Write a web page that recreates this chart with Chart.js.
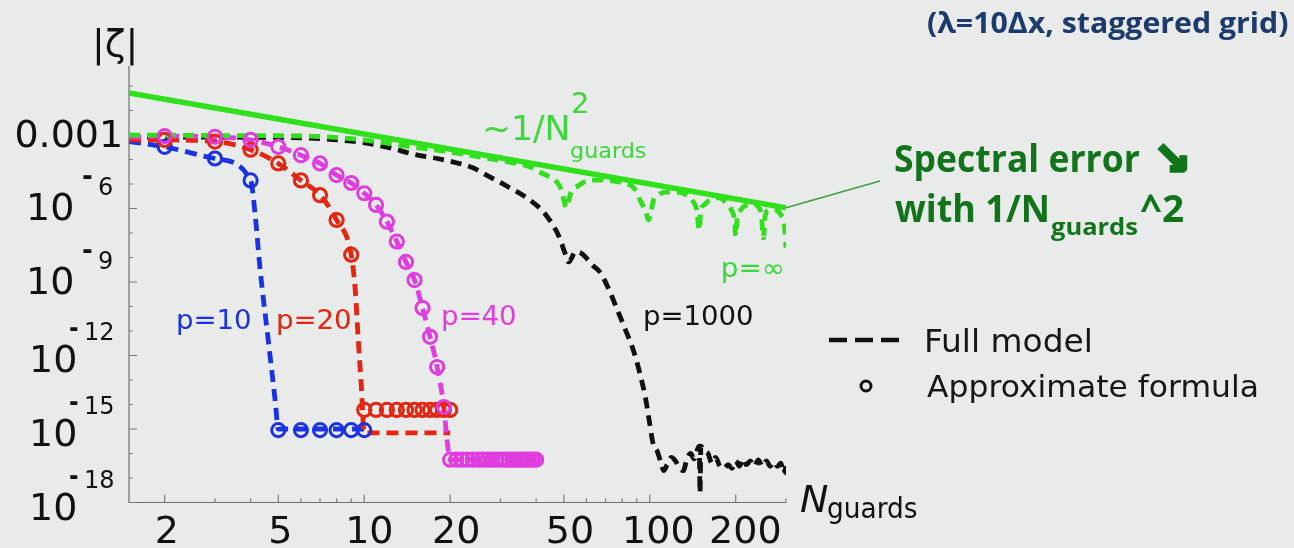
<!DOCTYPE html>
<html>
<head>
<meta charset="utf-8">
<script src="https://cdn.jsdelivr.net/npm/chart.js@4.4.1/dist/chart.umd.min.js"></script>
<style>
  html, body { margin: 0; padding: 0; background: #e9ebea; }
  canvas { display: block; }
</style>
</head>
<body>
<canvas id="chart" width="1294" height="548"></canvas>
<script>
// ---------- axis ticks ----------
const xTicks = [2, 5, 10, 20, 50, 100, 200];
const xMinorTicks = [3, 4, 6, 7, 8, 9, 30, 40, 60, 70, 80, 90, 300];
const yTickExponents = [-3, -6, -9, -12, -15, -18];
const yMinorExponents = [-1, -2, -4, -5, -7, -8, -10, -11, -13, -14, -16, -17];

// ---------- approximate formula (circles), integer N ----------
const approxN_p10 = [2, 3, 4, 5, 6, 7, 8, 9, 10];
const approx_p10 = [3.3e-4, 1.1e-4, 1.4e-5, 9e-16, 9e-16, 9e-16, 9e-16, 9e-16, 9e-16];

const approxN_p20 = [2, 3, 4, 5, 6, 7, 8, 9, 10, 11, 12, 13, 14, 15, 16, 17, 18, 19, 20];
const approx_p20 = [6.3e-4, 5.4e-4, 2.5e-4, 6.9e-5, 1.4e-5, 3.5e-6, 3.4e-7, 1.3e-8,
  6e-15, 6e-15, 6e-15, 6e-15, 6e-15, 6e-15, 6e-15, 6e-15, 6e-15, 6e-15, 6e-15];

const approxN_p40 = [2, 3, 4, 5, 6, 7, 8, 9, 10, 11, 12, 13, 14, 15, 16, 17, 18, 19, 20,
  21, 22, 23, 24, 25, 26, 27, 28, 29, 30, 31, 32, 33, 34, 35, 36, 37, 38, 39, 40];
const approx_p40 = [9.0e-4, 8.5e-4, 6.3e-4, 3.3e-4, 1.5e-4, 6.9e-5, 2.3e-5, 1.1e-5, 4.2e-6,
  1.4e-6, 2.9e-7, 4.5e-8, 6.6e-9, 1.2e-9, 8.7e-11, 5.8e-12, 3.4e-13, 7.9e-15,
  5.6e-17, 5.6e-17, 5.6e-17, 5.6e-17, 5.6e-17, 5.6e-17, 5.6e-17, 5.6e-17, 5.6e-17,
  5.6e-17, 5.6e-17, 5.6e-17, 5.6e-17, 5.6e-17, 5.6e-17, 5.6e-17, 5.6e-17, 5.6e-17,
  5.6e-17, 5.6e-17, 5.6e-17];

// ---------- full model (dashed curves) ----------
const fullN_p10 = [1.5, 2, 3, 4, 4.15, 4.32, 4.61, 4.88, 5, 10];
const full_p10 = [5.4e-4, 3.3e-4, 1.1e-4, 1.4e-5, 5.4e-7, 3.1e-9, 4.3e-12, 1.3e-14, 1.0e-15, 1.0e-15];

const fullN_p20 = [1.5, 2, 3, 4, 5, 6, 7, 8, 9, 9.3, 9.53, 9.76, 10, 20];
const full_p20 = [6.4e-4, 6.3e-4, 5.4e-4, 2.5e-4, 6.9e-5, 1.4e-5, 3.5e-6, 3.4e-7, 1.3e-8,
  4.7e-10, 4.3e-12, 6.3e-14, 7.0e-16, 7.0e-16];

const fullN_p40 = [1.5, 2, 3, 4, 5, 6, 7, 8, 9, 10, 11, 12, 13, 14, 15, 16, 17, 18, 19, 19.5, 20, 40];
const full_p40 = [8.3e-4, 9.0e-4, 8.5e-4, 6.3e-4, 3.3e-4, 1.5e-4, 6.9e-5, 2.3e-5, 1.1e-5, 4.2e-6,
  1.4e-6, 2.9e-7, 4.5e-8, 6.6e-9, 1.2e-9, 8.7e-11, 5.8e-12, 3.4e-13, 7.9e-15, 3.5e-16,
  5.6e-17, 5.6e-17];

const fullN_p1000 = [1.5, 5, 9, 12, 15, 18, 21, 24, 27, 31.5, 37.5, 43, 48, 50.5, 52, 55, 58,
  63, 67, 71.5, 76, 82, 88, 92.5, 96.5, 99.5, 103, 106, 109, 112, 115, 119, 123, 127, 131,
  135, 139, 143, 147, 149, 150, 151, 155, 160, 165, 170, 176, 182, 188, 194, 200, 206, 212,
  218, 225, 232, 240, 248, 256, 264, 272, 280, 288, 294, 300];
const full_p1000 = [8.3e-4, 7.9e-4, 5.6e-4, 3.2e-4, 1.6e-4, 1.1e-4, 7.4e-5, 4.6e-5, 2.2e-5,
  8.3e-6, 2.5e-6, 6.0e-7, 7.6e-8, 1.5e-8, 6.6e-9, 1.7e-8, 1.4e-8, 4.9e-9, 2.5e-9, 5.8e-10,
  1.05e-10, 1.2e-11, 1.4e-12, 1.7e-13, 2.0e-14, 2.3e-15, 2.2e-16, 1.3e-16, 5.0e-17, 2.0e-17,
  3.5e-17, 7.0e-17, 5.0e-17, 2.5e-17, 2.0e-17, 6.0e-17, 1.0e-16, 6.0e-17, 1.5e-16, 2.0e-16,
  2.5e-18, 2.0e-16, 1.3e-16, 1.0e-16, 4.0e-17, 7.0e-17, 3.0e-17, 2.5e-17, 3.5e-17, 2.5e-17,
  5.0e-17, 3.0e-17, 6.0e-17, 3.5e-17, 5.0e-17, 3.0e-17, 5.5e-17, 3.0e-17, 5.0e-17, 3.0e-17,
  4.5e-17, 3.0e-17, 4.0e-17, 1.5e-17, 3.0e-17];

const fullN_pInf = [1.5, 3, 5, 7, 9, 11, 14, 19, 25, 32, 38, 41, 44, 47, 49, 50, 51, 52, 53, 56,
  60, 66, 75, 82, 88, 93, 97, 99, 101, 103, 107, 113, 125, 135, 142, 146, 149, 151, 155, 162,
  175, 185, 193, 198, 200, 202, 208, 220, 230, 240, 246, 250, 254, 262, 275, 288, 296, 300];
const full_pInf = [1.0e-3, 9.5e-4, 9.3e-4, 8.7e-4, 7.1e-4, 5.4e-4, 3.5e-4, 2.2e-4, 1.3e-4,
  7.9e-5, 5.0e-5, 3.1e-5, 2.1e-5, 1.3e-5, 5.8e-6, 2.2e-6, 1.05e-6, 2.2e-6, 4.7e-6, 8.3e-6,
  1.3e-5, 1.45e-5, 1.3e-5, 1.05e-5, 6.9e-6, 1.9e-6, 7.2e-7, 3.4e-7, 7.2e-7, 2.2e-6, 3.5e-6,
  4.7e-6, 4.7e-6, 3.5e-6, 1.9e-6, 8.7e-7, 1.3e-7, 8.7e-7, 1.4e-6, 2.2e-6, 2.7e-6, 1.7e-6,
  8.7e-7, 3.4e-7, 7.6e-8, 3.4e-7, 8.7e-7, 1.4e-6, 1.5e-6, 1.15e-6, 5.4e-7, 6.3e-8, 5.4e-7,
  8.7e-7, 8.7e-7, 5.4e-7, 2.1e-7, 2.5e-8];

// ~1/N^2 guide line end points
const guideN = [1.5, 300];
const guideVal = [5.2e-2, 1.07e-6];

// ---------- colours ----------
const BLUE = '#1a32e4', RED = '#e6240f', MAGENTA = '#e03ce0', BLACK = '#111111';
const GREEN = '#30e01c', GREEN_TEXT = '#3ad83a', DARK_GREEN = '#11741a', NAVY = '#1d3a6c';

const pts = (xs, ys) => xs.map((v, i) => ({ x: v, y: ys[i] }));

function circles(xs, ys, color) {
  return {
    data: pts(xs, ys), showLine: false, pointStyle: 'circle', pointRadius: 6.6,
    pointBorderWidth: 3, pointBorderColor: color, pointBackgroundColor: 'rgba(0,0,0,0)',
    borderColor: color, backgroundColor: 'rgba(0,0,0,0)'
  };
}
function dashed(xs, ys, color, dash) {
  return {
    data: pts(xs, ys), showLine: true, pointRadius: 0, borderColor: color, borderWidth: 4.8,
    borderDash: dash || [12, 7], borderCapStyle: 'butt', cubicInterpolationMode: 'monotone',
    fill: false
  };
}

// first dataset is painted on top
const datasets = [
  circles(approxN_p40, approx_p40, MAGENTA),
  circles(approxN_p20, approx_p20, RED),
  circles(approxN_p10, approx_p10, BLUE),
  { data: pts(guideN, guideVal), showLine: true, pointRadius: 0, borderColor: GREEN,
    borderWidth: 5.5, fill: false },
  dashed(fullN_pInf, full_pInf, GREEN, [11, 7]),
  dashed(fullN_p40, full_p40, MAGENTA),
  dashed(fullN_p20, full_p20, RED),
  dashed(fullN_p10, full_p10, BLUE),
  dashed(fullN_p1000, full_p1000, BLACK, [11, 7])
];

// ---------- text helper: ink-left placement with optional width fit ----------
function put(ctx, s, x, base, font, color, opt = {}) {
  ctx.save();
  ctx.font = font;
  ctx.fillStyle = color;
  ctx.textAlign = 'left';
  ctx.textBaseline = 'alphabetic';
  const m = ctx.measureText(s);
  const ink = m.actualBoundingBoxLeft + m.actualBoundingBoxRight;
  let sx = 1;
  if (opt.to) sx = (opt.to - x) / ink;
  let left = x;
  if (opt.align === 'right') left = x - ink * sx;
  if (opt.align === 'center') left = x - ink * sx / 2;
  ctx.translate(left + m.actualBoundingBoxLeft * sx, base);
  ctx.scale(sx, 1);
  ctx.fillText(s, 0, 0);
  if (opt.stroke) {
    ctx.strokeStyle = color;
    ctx.lineWidth = opt.stroke;
    ctx.lineJoin = 'miter';
    ctx.strokeText(s, 0, 0);
  }
  ctx.restore();
}

const DJ = '"DejaVu Sans"';
const OS = '"Open Sans"';

const frame = {
  id: 'frame',
  beforeDatasetsDraw(chart) {
    const { ctx, chartArea: a, scales: { x, y } } = chart;
    ctx.save();
    ctx.strokeStyle = '#6e6e6e';
    ctx.lineWidth = 1.2;
    ctx.beginPath();
    ctx.moveTo(a.left, a.top);
    ctx.lineTo(a.left, a.bottom);
    ctx.lineTo(a.right, a.bottom);
    ctx.stroke();
    ctx.strokeStyle = '#7a7a7a';
    ctx.beginPath();
    xTicks.forEach(v => { const p = x.getPixelForValue(v); ctx.moveTo(p, a.bottom); ctx.lineTo(p, a.bottom - 8); });
    xMinorTicks.forEach(v => { const p = x.getPixelForValue(v); ctx.moveTo(p, a.bottom); ctx.lineTo(p, a.bottom - 4); });
    yTickExponents.forEach(e => { const p = y.getPixelForValue(Math.pow(10, e)); ctx.moveTo(a.left, p); ctx.lineTo(a.left + 8, p); });
    yMinorExponents.forEach(e => { const p = y.getPixelForValue(Math.pow(10, e)); ctx.moveTo(a.left, p); ctx.lineTo(a.left + 4, p); });
    ctx.stroke();
    ctx.restore();
  },
  afterDatasetsDraw(chart) {
    const { ctx, chartArea: a, scales: { x, y } } = chart;

    // x tick labels
    xTicks.forEach(v => {
      const s = String(v);
      const shift = [0, 1.5, 6, 9.5][s.length];
      put(ctx, s, x.getPixelForValue(v) + shift, 543, `38px ${DJ}`, BLACK, { align: 'center' });
    });

    // y tick labels
    yTickExponents.forEach(e => {
      const p = y.getPixelForValue(Math.pow(10, e));
      if (e === -3) {
        put(ctx, '0.001', 120, p + 12, `38px ${DJ}`, BLACK, { align: 'right' });
        return;
      }
      const s = String(-e);
      if (s.length === 1) {
        put(ctx, '10', 30, p + 12, `38px ${DJ}`, BLACK);
        put(ctx, '-', 83, p - 23, `bold 26px ${DJ}`, BLACK, { to: 92 });
        put(ctx, s, 99, p - 13, `24px ${DJ}`, BLACK);
      } else {
        put(ctx, '10', 33, p + 17, `38px ${DJ}`, BLACK);
        put(ctx, '-', 70, p - 18, `bold 26px ${DJ}`, BLACK, { to: 78 });
        put(ctx, s, 86, p - 15, `24px ${DJ}`, BLACK);
      }
    });

    // axis titles
    put(ctx, '|ζ|', 96, 56, `38px ${DJ}`, BLACK);
    put(ctx, 'N', 801, 512, `italic 38px ${DJ}`, BLACK);
    put(ctx, 'guards', 828, 518, `28px ${DJ}`, BLACK, { to: 917 });

    // curve labels
    put(ctx, 'p=10', 178, 329, `26px ${DJ}`, BLUE, { to: 250 });
    put(ctx, 'p=20', 278, 329, `26px ${DJ}`, RED, { to: 350 });
    put(ctx, 'p=40', 443, 325, `26px ${DJ}`, MAGENTA, { to: 515 });
    put(ctx, 'p=1000', 645, 325, `26px ${DJ}`, BLACK, { to: 752 });
    put(ctx, 'p=∞', 723, 277, `26px ${DJ}`, GREEN_TEXT, { to: 782 });

    // ~1/N^2 label
    put(ctx, '~1/N', 485, 140, `34px ${DJ}`, GREEN_TEXT, { to: 568 });
    put(ctx, '2', 573, 113, `29px ${DJ}`, GREEN_TEXT);
    put(ctx, 'guards', 571, 158, `22px ${DJ}`, GREEN_TEXT, { to: 646 });

    // legend
    ctx.save();
    ctx.strokeStyle = BLACK;
    ctx.lineWidth = 4.5;
    ctx.setLineDash([18, 8]);
    ctx.beginPath();
    ctx.moveTo(829, 340);
    ctx.lineTo(899, 340);
    ctx.stroke();
    ctx.setLineDash([]);
    ctx.lineWidth = 3;
    ctx.beginPath();
    ctx.arc(866, 386, 5, 0, Math.PI * 2);
    ctx.stroke();
    ctx.restore();
    put(ctx, 'Full model', 927, 352, `32px ${DJ}`, '#161616', { to: 1090 });
    put(ctx, 'Approximate formula', 927, 397, `31px ${DJ}`, '#161616', { to: 1257 });

    // header
    put(ctx, '(λ=10Δx, staggered grid)', 928, 33, `bold 28px ${OS}`, NAVY, { to: 1288 });

    // spectral error note with pointer to the end of the guide line
    ctx.save();
    ctx.strokeStyle = '#3f9f3f';
    ctx.lineWidth = 1.6;
    ctx.beginPath();
    ctx.moveTo(x.getPixelForValue(guideN[1]), y.getPixelForValue(guideVal[1]));
    ctx.lineTo(880, 181);
    ctx.stroke();
    ctx.restore();
    put(ctx, 'Spectral error', 895, 172, `bold 37px ${OS}`, DARK_GREEN, { to: 1140 });
    put(ctx, '↘', 1159, 174, `bold 44px ${DJ}`, DARK_GREEN, { to: 1186, stroke: 3.5 });
    put(ctx, 'with 1/N', 895, 222, `bold 37px ${OS}`, DARK_GREEN, { to: 1047 });
    put(ctx, 'guards', 1051, 235, `bold 24px ${OS}`, DARK_GREEN, { to: 1138 });
    put(ctx, '^2', 1140, 222, `bold 37px ${OS}`, DARK_GREEN, { to: 1183 });
  }
};

new Chart(document.getElementById('chart'), {
  type: 'scatter',
  data: { datasets },
  options: {
    responsive: false,
    animation: false,
    devicePixelRatio: 1,
    layout: { padding: { left: 129, right: 1294 - 786, top: 66, bottom: 548 - 502.5 } },
    scales: {
      x: { type: 'logarithmic', min: 1.5, max: 300, display: false },
      y: { type: 'logarithmic', min: 1e-18, max: 0.655, display: false }
    },
    plugins: { legend: { display: false }, tooltip: { enabled: false } }
  },
  plugins: [frame]
});
</script>
</body>
</html>
